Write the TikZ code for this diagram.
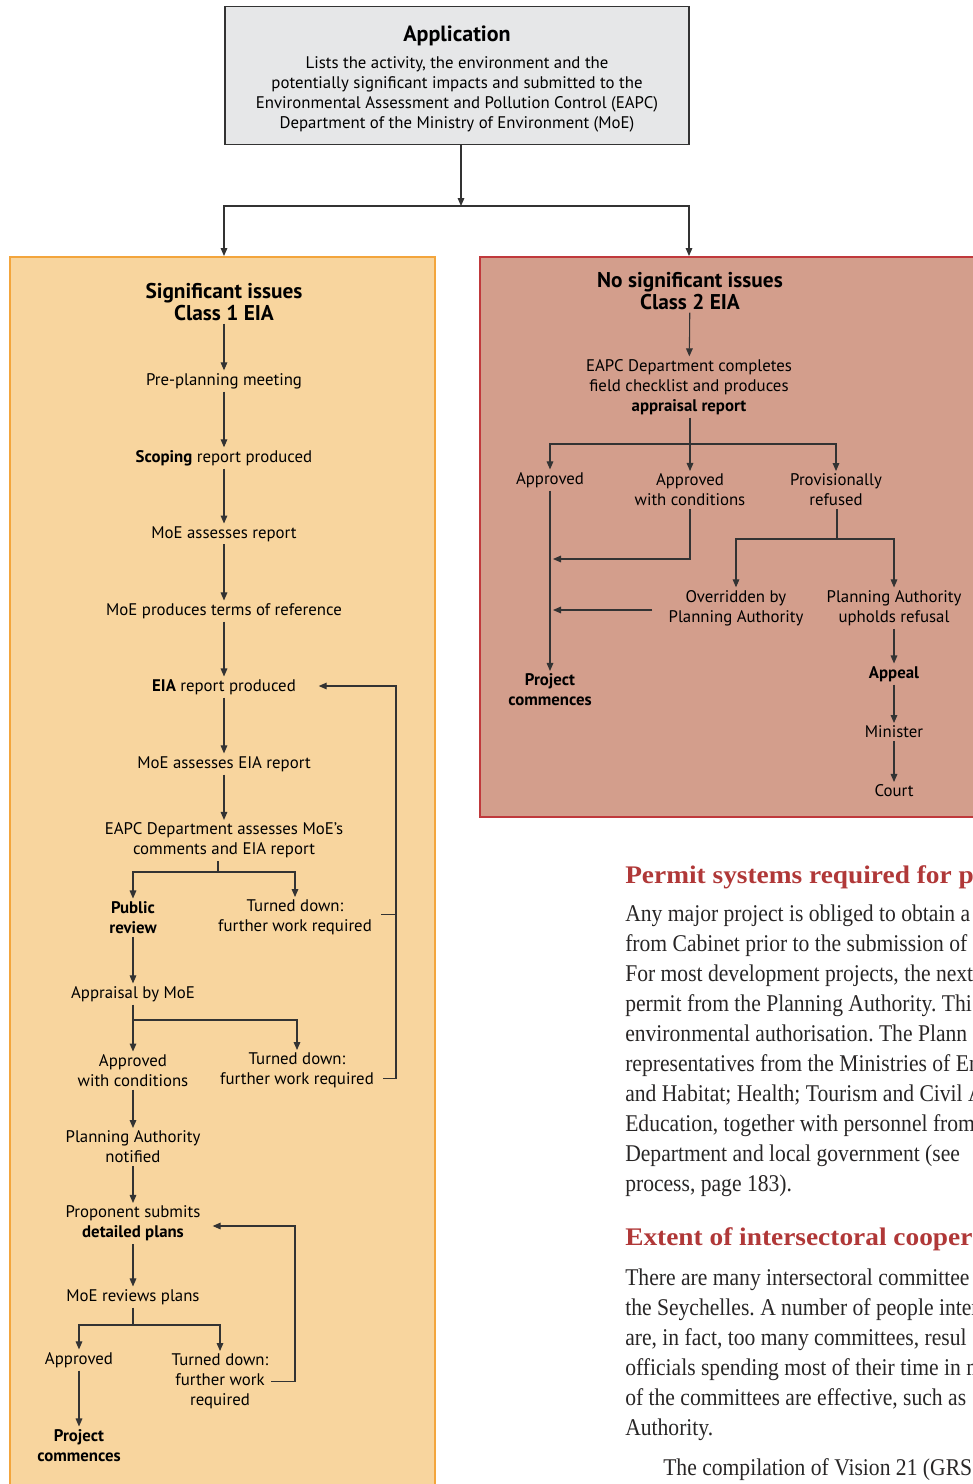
\documentclass[tikz,border=0pt]{standalone}
\usepackage{fontspec}
\setmainfont{PT Sans}
\newfontfamily\bodyserif[FakeStretch=0.9]{Liberation Serif}
\newfontfamily\headserif[FakeStretch=1.08]{Liberation Serif}
\usetikzlibrary{positioning, arrows.meta}
\definecolor{boxgray}{RGB}{230,231,232}
\definecolor{linegray}{RGB}{51,51,51}
\definecolor{peach}{RGB}{248,213,158}
\definecolor{peachline}{RGB}{243,165,60}
\definecolor{rose}{RGB}{211,158,140}
\definecolor{roseline}{RGB}{192,57,60}
\definecolor{headred}{RGB}{176,56,56}
\definecolor{bodytext}{RGB}{40,38,38}
\frenchspacing
\newcommand{\diagfont}{\fontsize{12.6}{15}\selectfont}
\newcommand{\diagtitle}{\fontsize{16}{16.5}\selectfont\bfseries}
\newcommand{\bodyfont}{\fontsize{18}{22.5}\bodyserif\selectfont}
\newcommand{\headfont}{\fontsize{19}{22.5}\headserif\bfseries\selectfont}

\begin{document}
\begin{tikzpicture}[
  x=0.75pt, y=-0.75pt,
  stage/.style={font=\diagfont, align=center, inner sep=2pt, text=black},
  stagetitle/.style={font=\diagtitle, align=center, inner sep=2pt, text=black},
  arr/.style={-{Triangle[width=5pt,length=6pt]}, draw=linegray, line width=0.8pt},
  ln/.style={draw=linegray, line width=0.8pt},
  bodyline/.style={anchor=base west, font=\bodyfont, text=bodytext, inner sep=0pt},
  headline/.style={anchor=base west, font=\headfont, text=headred, inner sep=0pt}
]
\useasboundingbox (0,0) rectangle (973,1484);

% Panels
\fill[peach] (10,257) rectangle (435,1495);
\draw[peachline, line width=0.8pt] (10,1495) -- (10,257) -- (435,257) -- (435,1495);
\fill[rose] (480,257) rectangle (990,817);
\draw[roseline, line width=0.8pt] (990,257) -- (480,257) -- (480,817) -- (990,817);

% Application box
\node[stage, draw=linegray, line width=0.8pt, fill=boxgray,
      minimum width=348pt, minimum height=104pt] (app) at (457,75.5)
  {\rule{0pt}{17.5pt}{\fontsize{16.5}{16.5}\selectfont\bfseries Application}\\[5pt]
   Lists the activity, the environment and the\\
   potentially significant impacts and submitted to the\\
   Environmental Assessment and Pollution Control (EAPC)\\
   Department of the Ministry of Environment (MoE)};

\coordinate (split) at (461,206);
\coordinate (tl) at (224,256);
\coordinate (tr) at (689,256);
\draw[arr] (app.south -| split) -- (split);
\draw[arr] (split) -| (tl);
\draw[arr] (split) -| (tr);

% Class 1 column
\node[stagetitle] (sig)  at (224,302)    {Significant issues\\Class 1 EIA};
\node[stage]      (pre)  at (224,381)    {Pre-planning meeting};
\node[stage]      (scop) at (224,458)    {\textbf{Scoping} report produced};
\node[stage]      (moe1) at (224,534)    {MoE assesses report};
\node[stage]      (tor)  at (224,611)    {MoE produces terms of reference};
\node[stage]      (eia)  at (224,687)    {\textbf{EIA} report produced};
\node[stage]      (moe2) at (224,764)    {MoE assesses EIA report};
\node[stage]      (eapc) at (224,840.5)  {EAPC Department assesses MoE's\\comments and EIA report};
\node[stage, font=\diagfont\bfseries] (pub) at (133,917.5) {Public\\review};
\node[stage]      (td1)  at (295,917.5)  {Turned down:\\further work required};
\node[stage]      (apm)  at (133,994)    {Appraisal by MoE};
\node[stage]      (awc)  at (133,1070.5) {Approved\\with conditions};
\node[stage]      (td2)  at (297,1070.5) {Turned down:\\further work required};
\node[stage]      (pan)  at (133,1147)   {Planning Authority\\notified};
\node[stage]      (prop) at (133,1223.5) {Proponent submits\\\textbf{detailed plans}};
\node[stage]      (rev)  at (133,1297)   {MoE reviews plans};
\node[stage]      (ap3)  at (79,1360)    {Approved};
\node[stage]      (td3)  at (220,1381.5) {Turned down:\\further work\\required};
\node[stage, font=\diagfont\bfseries] (pc1) at (79,1445.5) {Project\\commences};

\draw[arr] (sig) -- (pre);
\draw[arr] (pre) -- (scop);
\draw[arr] (scop) -- (moe1);
\draw[arr] (moe1) -- (tor);
\draw[arr] (tor) -- (eia);
\draw[arr] (eia) -- (moe2);
\draw[arr] (moe2) -- (eapc);

\coordinate (b1) at (218,872);
\draw[ln] (eapc.south -| b1) -- (b1);
\draw[arr] (b1) -| (pub);
\draw[arr] (b1) -| (td1);
\draw[arr] (pub) -- (apm);

\coordinate (b2) at (133,1020);
\draw[arr] (apm) -- (awc);
\draw[arr] (b2) -| (td2);
\draw[arr] (awc) -- (pan);
\draw[arr] (pan) -- (prop);
\draw[arr] (prop) -- (rev);

\coordinate (b3) at (133,1325);
\draw[ln] (rev) -- (b3);
\draw[arr] (b3) -| (ap3);
\draw[arr] (b3) -| (td3);
\draw[arr] (ap3) -- (pc1);

% Loops back for further work
\coordinate (lp1) at (396,686);
\draw[ln, shorten <=5pt] ([yshift=2.5pt]td1.east) -- ([yshift=2.5pt]td1.east -| lp1);
\draw[arr, shorten <=5pt, shorten >=15pt] ([yshift=-6pt]td2.east) -| (lp1) -- (lp1 -| eia.east);
\coordinate (lp2) at (295,1226);
\draw[arr, shorten >=7pt] (td3.east) -| (lp2) -- (lp2 -| prop.east);

% Class 2 column
\node[stagetitle] (nsig)  at (690,291) {No significant issues\\Class 2 EIA};
\node[stage]      (chk)   at (689,387) {EAPC Department completes\\field checklist and produces\\\textbf{appraisal report}};
\node[stage]      (rap)   at (550,480) {Approved};
\node[stage]      (rawc)  at (690,490) {Approved\\with conditions};
\node[stage]      (prov)  at (836,490) {Provisionally\\refused};
\node[stage]      (over)  at (736,608) {Overridden by\\Planning Authority};
\node[stage]      (uph)   at (894,608) {Planning Authority\\upholds refusal};
\node[stage, font=\diagfont\bfseries] (appeal) at (894,674) {Appeal};
\node[stage]      (mini)  at (894,732) {Minister};
\node[stage]      (court) at (894,791) {Court};
\node[stage, font=\diagfont\bfseries] (pc2) at (550,690) {Project\\commences};

\draw[arr] (nsig) -- (chk);
\coordinate (b4) at (690,444);
\draw[arr] (chk.south -| rawc) -- (rawc);
\draw[arr] (b4) -| (rap);
\draw[arr] (b4) -| (prov);
\draw[arr] (rap) -- (pc2);

\coordinate (j1) at (553,559);
\coordinate (j2) at (553,610);
\draw[arr] (rawc) |- (j1);
\draw[arr, shorten <=10pt] (over.west |- j2) -- (j2);

\coordinate (b5) at (837,539);
\draw[ln] (prov.south -| b5) -- (b5);
\draw[arr] (b5) -| (over);
\draw[arr] (b5) -| (uph);
\draw[arr] (uph) -- (appeal);
\draw[arr] (appeal) -- (mini);
\draw[arr] (mini) -- (court);

% Page text
\node[headline] (h1) at (625,883) {Permit systems required for p};
\node[bodyline] (t1)  at (625,921)  {Any major project is obliged to obtain a};
\node[bodyline] (t2)  at (625,951)  {from Cabinet prior to the submission of};
\node[bodyline] (t3)  at (625,981)  {For most development projects, the next};
\node[bodyline] (t4)  at (625,1011) {permit from the Planning Authority. Thi};
\node[bodyline] (t5)  at (625,1041) {environmental authorisation. The Plann};
\node[bodyline] (t6)  at (625,1071) {representatives from the Ministries of En};
\node[bodyline] (t7)  at (625,1101) {and Habitat; Health; Tourism and Civil A};
\node[bodyline] (t8)  at (625,1131) {Education, together with personnel from};
\node[bodyline] (t9)  at (625,1161) {Department and local government (see};
\node[bodyline] (t10) at (625,1191) {process, page 183).};

\node[headline] (h2) at (625,1245) {Extent of intersectoral cooper};
\node[bodyline] (u1) at (625,1285) {There are many intersectoral committee};
\node[bodyline] (u2) at (625,1315) {the Seychelles. A number of people inter};
\node[bodyline] (u3) at (625,1345) {are, in fact, too many committees, resul};
\node[bodyline] (u4) at (625,1375) {officials spending most of their time in m};
\node[bodyline] (u5) at (625,1405) {of the committees are effective, such as};
\node[bodyline] (u6) at (625,1435) {Authority.};
\node[bodyline] (u7) at (663,1475) {The compilation of Vision 21 (GRS};
\end{tikzpicture}
\end{document}
